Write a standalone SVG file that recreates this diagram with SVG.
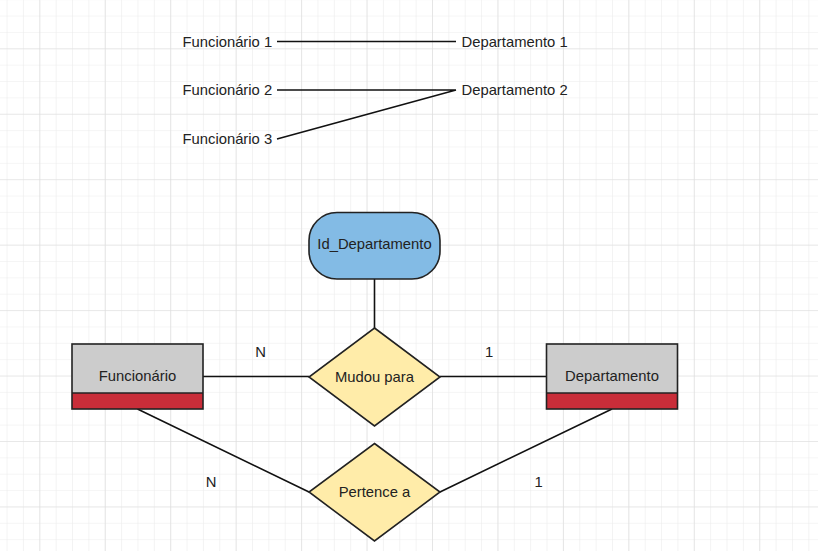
<svg xmlns="http://www.w3.org/2000/svg" width="818" height="551" viewBox="0 0 818 551">
<defs>
<pattern id="minor" x="39.3" y="48.3" width="16.3625" height="16.3625" patternUnits="userSpaceOnUse">
<path d="M0 0V16.3625M0 0H16.3625" fill="none" stroke="#ececec" stroke-width="1.2"/>
</pattern>
<pattern id="major" x="39.3" y="48.3" width="65.45" height="65.45" patternUnits="userSpaceOnUse">
<path d="M0 0V65.45M0 0H65.45" fill="none" stroke="#dcdcdc" stroke-width="1.2"/>
</pattern>
<style>
text{font-family:"Liberation Sans",Arial,sans-serif;font-size:14.8px;fill:#222222}
.c{text-anchor:middle}
.ln{stroke:#111111;stroke-width:1.6;fill:none}
.sh{stroke:#222222;stroke-width:1.6}
</style>
</defs>
<rect width="818" height="551" fill="#ffffff"/>
<rect width="818" height="551" fill="url(#minor)"/>
<rect width="818" height="551" fill="url(#major)"/>

<g id="top-example">
<text x="182.5" y="46.5">Funcionário 1</text>
<text x="182.5" y="95">Funcionário 2</text>
<text x="182.5" y="143.5">Funcionário 3</text>
<text x="461.5" y="46.5">Departamento 1</text>
<text x="461.5" y="95">Departamento 2</text>
<path class="ln" d="M277 41.5H456M277 90H456M277 139L456 90"/>
</g>

<g id="connectors">
<path class="ln" d="M203 376.5H309M440 376.5H546M374.5 279V328M137.5 409L309 492M612 409L440 492"/>
</g>

<g id="cardinalities">
<text class="c" x="260.5" y="357">N</text>
<text class="c" x="489" y="357">1</text>
<text class="c" x="211" y="487">N</text>
<text class="c" x="538.5" y="487">1</text>
</g>

<g id="funcionario">
<rect x="72" y="344" width="131" height="49" fill="#cccccc"/>
<rect x="72" y="393" width="131" height="16" fill="#c92d39"/>
<rect x="72" y="344" width="131" height="65" fill="none" class="sh"/>
<path class="sh" d="M72 393H203"/>
<text class="c" x="137.5" y="380.5">Funcionário</text>
</g>

<g id="departamento">
<rect x="546.5" y="344" width="131" height="49" fill="#cccccc"/>
<rect x="546.5" y="393" width="131" height="16" fill="#c92d39"/>
<rect x="546.5" y="344" width="131" height="65" fill="none" class="sh"/>
<path class="sh" d="M546.5 393H677.5"/>
<text class="c" x="612" y="380.5">Departamento</text>
</g>

<g id="id-departamento">
<rect x="309" y="212.5" width="131" height="66.5" rx="28" ry="28" fill="#83bbe5" class="sh"/>
<text class="c" x="374.5" y="249">Id_Departamento</text>
</g>

<g id="mudou-para">
<polygon points="374.5,328 440,377 374.5,426 309,377" fill="#ffeca9" class="sh"/>
<text class="c" x="374.5" y="381.5">Mudou para</text>
</g>

<g id="pertence-a">
<polygon points="374.5,443.5 440,492 374.5,541 309,492" fill="#ffeca9" class="sh"/>
<text class="c" x="374.5" y="497">Pertence a</text>
</g>
</svg>
